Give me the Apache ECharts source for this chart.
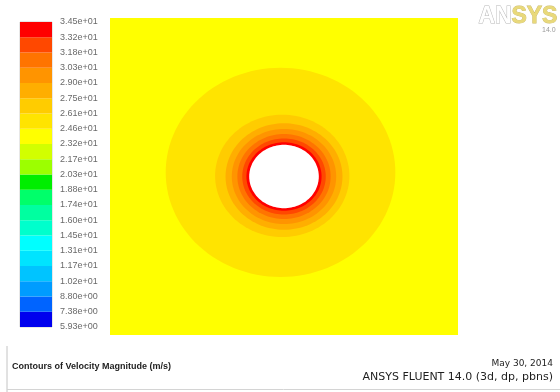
<!DOCTYPE html>
<html>
<head>
<meta charset="utf-8">
<script src="https://cdn.jsdelivr.net/npm/echarts@6/dist/echarts.min.js"></script>
<style>
  html, body { margin: 0; padding: 0; background: #ffffff; }
  #chart { width: 560px; height: 392px; }
</style>
</head>
<body>
<div id="chart"></div>
<script>
// Velocity-magnitude colour scale, one colour per band, lowest band first
const bandColors = [
  '#0000ee', '#0064ff', '#009cff', '#00c4ff', '#00e4ff',
  '#00ffff', '#00ffcc', '#00ffa0', '#00ff6a', '#00ee00',
  '#9cff00', '#d2ff00', '#ffff00', '#ffe400', '#ffcc00',
  '#ffae00', '#ff9400', '#ff7400', '#ff4800', '#ff0000'
];
// Scale labels at the band boundaries (m/s), lowest first
const scaleLabels = [
  '5.93e+00', '7.38e+00', '8.80e+00', '1.02e+01', '1.17e+01', '1.31e+01',
  '1.45e+01', '1.60e+01', '1.74e+01', '1.88e+01', '2.03e+01', '2.17e+01',
  '2.32e+01', '2.46e+01', '2.61e+01', '2.75e+01', '2.90e+01', '3.03e+01',
  '3.18e+01', '3.32e+01', '3.45e+01'
];

// Computational domain (m), cylinder centred at the origin
const domainX = [-5, 5];
const domainY = [-5, 5];
const freeStreamBand = 12;
const cylinderRadius = 1.0;

// Contour regions around the cylinder, outermost first
const contourBand   = [13, 14, 15, 16, 17, 18, 19];
const contourRadius = [3.3, 1.93, 1.68, 1.5, 1.34, 1.2, 1.08];
const contourCx     = [-0.1, -0.05, 0, 0, 0, 0, 0];
const contourCy     = [0.13, 0.02, 0, 0, 0, 0, 0];

const chart = echarts.init(document.getElementById('chart'), null, { renderer: 'canvas' });

// closed outline of a circle of radius r about (cx, cy), mapped through the axes
function circlePoints(api, cx, cy, r) {
  const pts = [];
  const n = 120;
  for (let k = 0; k < n; k++) {
    const a = (k / n) * Math.PI * 2;
    pts.push(api.coord([cx + r * Math.cos(a), cy + r * Math.sin(a)]));
  }
  return pts;
}

const font = '"Liberation Sans", Arial, sans-serif';
const wideFont = '"DejaVu Sans", Verdana, sans-serif';

const option = {
  backgroundColor: '#ffffff',
  animation: false,
  grid: [
    { left: 110, top: 18, width: 348, height: 317, show: false },
    { left: 20, top: 22, width: 32, height: 305, show: true,
      backgroundColor: 'transparent', borderColor: '#cfcfcf', borderWidth: 1 }
  ],
  xAxis: [
    { gridIndex: 0, type: 'value', min: domainX[0], max: domainX[1], show: false },
    { gridIndex: 1, type: 'value', min: 0, max: 1, show: false }
  ],
  yAxis: [
    { gridIndex: 0, type: 'value', min: domainY[0], max: domainY[1], show: false },
    { gridIndex: 1, type: 'value', min: 0, max: 20, interval: 1, position: 'right',
      axisLine: { show: false }, axisTick: { show: false }, splitLine: { show: false },
      axisLabel: {
        show: true, margin: 8, fontSize: 9, color: '#6a6a6a', fontFamily: font,
        formatter: function (v) { return scaleLabels[Math.round(v)]; }
      }
    }
  ],
  series: [
    {
      // free-stream field filling the domain
      type: 'custom', xAxisIndex: 0, yAxisIndex: 0, silent: true,
      data: [[domainX[0], domainY[0], domainX[1], domainY[1], freeStreamBand]],
      renderItem: function (params, api) {
        const p0 = api.coord([api.value(0), api.value(3)]);
        const p1 = api.coord([api.value(2), api.value(1)]);
        return { type: 'rect',
          shape: { x: p0[0], y: p0[1], width: p1[0] - p0[0], height: p1[1] - p0[1] },
          style: { fill: bandColors[api.value(4)] } };
      }
    },
    {
      // velocity-magnitude contour bands around the cylinder
      type: 'custom', xAxisIndex: 0, yAxisIndex: 0, silent: true,
      data: contourBand.map((b, i) => [contourCx[i], contourCy[i], contourRadius[i], b]),
      renderItem: function (params, api) {
        return { type: 'polygon',
          shape: { points: circlePoints(api, api.value(0), api.value(1), api.value(2)) },
          style: { fill: bandColors[api.value(3)] } };
      }
    },
    {
      // the cylinder itself (no fluid)
      type: 'custom', xAxisIndex: 0, yAxisIndex: 0, silent: true,
      data: [[0, 0, cylinderRadius]],
      renderItem: function (params, api) {
        return { type: 'polygon',
          shape: { points: circlePoints(api, api.value(0), api.value(1), api.value(2)) },
          style: { fill: '#ffffff' } };
      }
    },
    {
      // colour scale bar
      type: 'custom', xAxisIndex: 1, yAxisIndex: 1, silent: true,
      data: bandColors.map((c, i) => [i]),
      renderItem: function (params, api) {
        const i = api.value(0);
        const p0 = api.coord([0, i + 1]);
        const p1 = api.coord([1, i]);
        return { type: 'rect',
          shape: { x: p0[0], y: p0[1], width: p1[0] - p0[0], height: p1[1] - p0[1] },
          style: { fill: bandColors[i] } };
      }
    }
  ],
  graphic: [
    // product logo
    { type: 'text', left: 478, top: 5, style: { text: 'AN', font: 'bold 23px ' + font,
      fill: '#ffffff', stroke: '#b8b8b8', lineWidth: 1 } },
    { type: 'text', left: 511, top: 5, style: { text: 'SYS', font: 'bold 23px ' + font,
      fill: '#e9d97a', stroke: '#c9b96a', lineWidth: 0.8 } },
    { type: 'text', left: 542, top: 27, style: { text: '14.0', font: '7px ' + font, fill: '#9a9a9a' } },

    // coordinate triad
    { type: 'line', shape: { x1: 172, y1: 316, x2: 172, y2: 300 }, style: { stroke: '#10b020', lineWidth: 2 } },
    { type: 'polygon', shape: { points: [[169, 301], [175, 301], [172, 295]] }, style: { fill: '#10b020' } },
    { type: 'line', shape: { x1: 172, y1: 316, x2: 156, y2: 316 }, style: { stroke: '#1020c0', lineWidth: 2 } },
    { type: 'polygon', shape: { points: [[157, 313], [157, 319], [151, 316]] }, style: { fill: '#1020c0' } },
    { type: 'text', x: 172, y: 315, style: { text: 'X', font: 'bold 8px ' + font, fill: '#e02020',
      align: 'center', verticalAlign: 'middle' } },
    { type: 'text', x: 167, y: 292, style: { text: 'Y', font: '7px ' + font, fill: '#10a020',
      align: 'center', verticalAlign: 'middle' } },
    { type: 'text', x: 147, y: 311, style: { text: 'Z', font: 'bold 8px ' + font, fill: '#202020',
      align: 'center', verticalAlign: 'middle' } },
    { type: 'circle', shape: { cx: 162, cy: 306, r: 1.6 }, style: { fill: '#30d0d0' } },

    // footer frame
    { type: 'line', shape: { x1: 7, y1: 346, x2: 7, y2: 392 }, style: { stroke: '#c4c4c4', lineWidth: 1 } },
    { type: 'line', shape: { x1: 7, y1: 389.5, x2: 560, y2: 389.5 }, style: { stroke: '#d4d4d4', lineWidth: 1 } },

    // footer text
    { type: 'text', x: 12, y: 367, style: { text: 'Contours of Velocity Magnitude (m/s)',
      font: 'bold 9px ' + font, fill: '#1e1e1e', verticalAlign: 'middle' } },
    { type: 'text', x: 553, y: 364, style: { text: 'May 30, 2014',
      font: '9px ' + wideFont, fill: '#1e1e1e', align: 'right', verticalAlign: 'middle' } },
    { type: 'text', x: 553, y: 377, style: { text: 'ANSYS FLUENT 14.0 (3d, dp, pbns)',
      font: '11px ' + wideFont, fill: '#1e1e1e', align: 'right', verticalAlign: 'middle' } }
  ]
};

chart.setOption(option);
</script>
</body>
</html>
